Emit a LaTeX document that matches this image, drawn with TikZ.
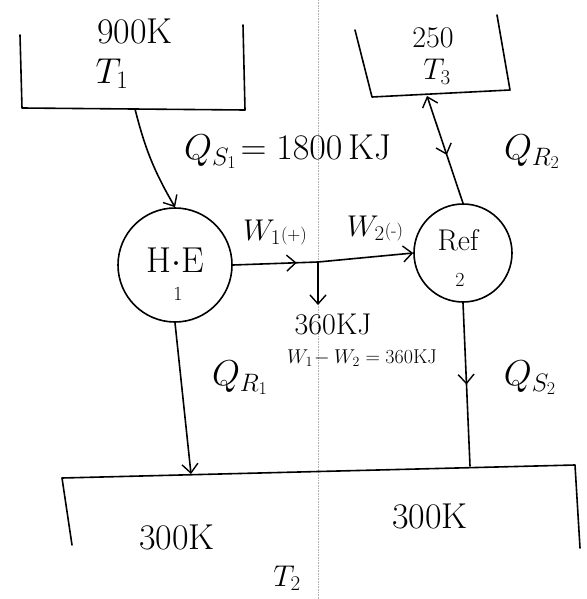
\RequirePackage{fix-cm}
\documentclass[tikz,border=0pt]{standalone}
\usepackage{amsmath}
\usepackage{tikz}
\usetikzlibrary{arrows.meta,positioning,decorations.markings,calc}

\tikzset{
  ink/.style={line width=1.6pt,line cap=round,line join=round},
  tip/.style={-{Straight Barb[length=9pt,width=16pt,line width=1.4pt]}},
  tipback/.style={{Straight Barb[length=9pt,width=16pt,line width=1.4pt]}-},
  midtip/.style={postaction={decorate},decoration={markings,
    mark=at position #1 with {\arrow{Straight Barb[length=9pt,width=16pt,line width=1.4pt]}}}},
  device/.style={circle,draw,ink,minimum size=#1,inner sep=0pt},
  lbl/.style={font=\fontsize{36}{40}\selectfont,inner sep=1pt},
  mid/.style={font=\fontsize{30}{34}\selectfont,inner sep=1pt},
  small/.style={font=\fontsize{20}{24}\selectfont,inner sep=1pt}
}

\begin{document}
\begin{tikzpicture}[x=1pt,y=-1pt]
  \useasboundingbox (0,0) rectangle (586,599);
  % scan fold line
  \draw[gray!60,densely dotted,line width=0.6pt] (318,0) -- (318,599);

  % reservoir T1 (900 K)
  \draw[ink] (20,35) -- (22,108) -- (245,110) -- (243,25);
  \node[lbl] (t1temp) at (135,31) {900K};
  \node[lbl] (t1) at (112,74) {$T_1$};
  \coordinate (t1out) at (135,109);

  % reservoir T3 (250)
  \draw[ink] (355,30) -- (372,97) -- (510,90) -- (497,15);
  \node[mid] (t3temp) at (433,38) {250};
  \node[mid] (t3) at (437,72) {$T_3$};
  \coordinate (t3in) at (427,96);

  % reservoir T2 (300 K)
  \draw[ink] (72,545) -- (62,478) -- (575,465) -- (580,548);
  \node[lbl] (t2left) at (177,537) {300K};
  \node[lbl] (t2right) at (430,516) {300K};
  \node[mid] (t2) at (287,578) {$T_2$};
  \coordinate (t2a) at (191,474);
  \coordinate (t2b) at (470,466);

  % heat engine and refrigerator
  \node[device=114pt] (he) at (175,265) {};
  \node[lbl] (helbl) at (175,260) {H$\cdot$E};
  \node[small] (henum) at (178,294) {1};
  \node[device=98pt] (ref) at (463,253) {};
  \node[mid] (reflbl) at (458,240) {Ref};
  \node[small] (refnum) at (460,280) {2};

  % heat flows
  \draw[ink,tip] (t1out) to[bend right=8] (he.north);
  \node[lbl,anchor=west] (qs1) at (183,152) {$Q_{S_1}\!=1800\,$KJ};
  \draw[ink,tipback,midtip=0.55] (t3in) -- (ref.north);
  \node[lbl] (qr2) at (532,152) {$Q_{R_2}$};
  \draw[ink,tip] (he.south) -- (t2a);
  \node[lbl] (qr1) at (240,378) {$Q_{R_1}$};
  \draw[ink,midtip=0.5] (ref.south) -- (t2b);
  \node[lbl] (qs2) at (530,378) {$Q_{S_2}$};

  % work
  \coordinate (split) at (318,262);
  \coordinate (net) at (318,305);
  \draw[ink,midtip=0.75] (he.east) -- (split);
  \draw[ink,tip] (split) -- (ref.west);
  \draw[ink,tip] (split) -- (net);
  \node[mid] (w1) at (275,232) {$W_1${\fontsize{18}{18}\selectfont(+)}};
  \node[mid] (w2) at (375,228) {$W_2${\fontsize{18}{18}\selectfont(-)}};
  \node[mid] (wnet) at (333,324) {360KJ};
  \node[small] (weq) at (362,358) {$W_1\!-W_2=360$KJ};
\end{tikzpicture}
\end{document}
